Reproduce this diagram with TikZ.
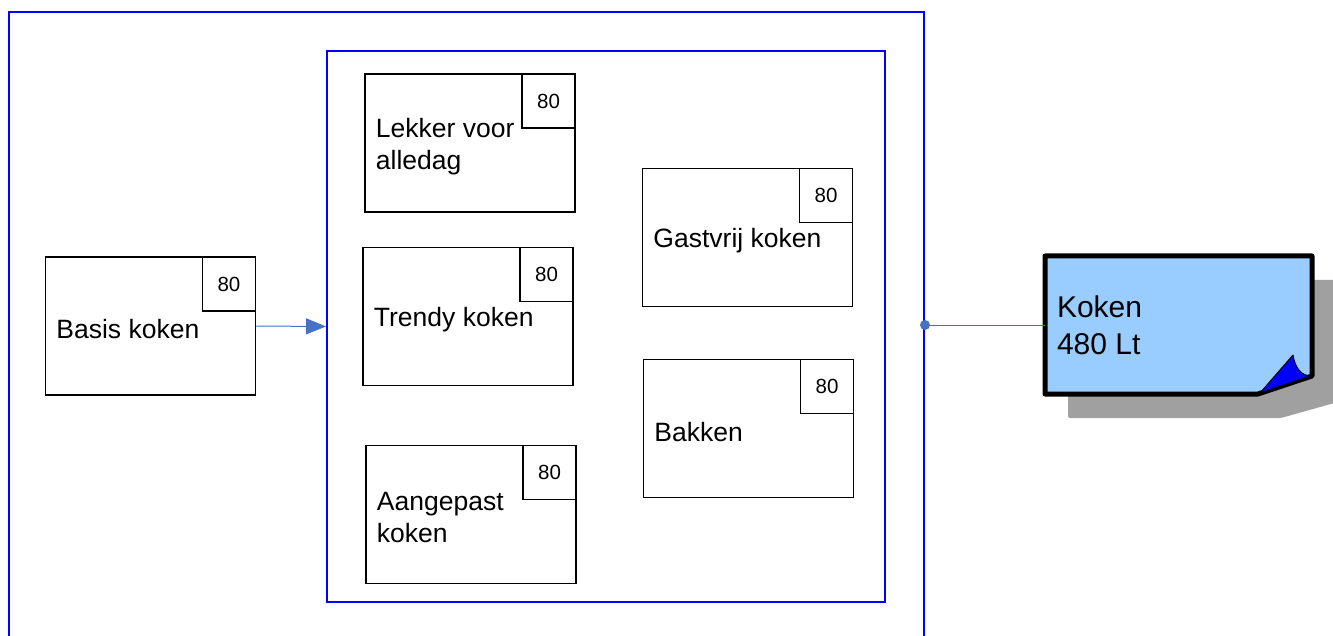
\documentclass[tikz,border=0pt]{standalone}
\usepackage{fontspec}
\setmainfont{Liberation Sans}
\usetikzlibrary{arrows.meta}
\definecolor{frameblue}{HTML}{0000FF}
\definecolor{linkblue}{HTML}{4472C4}
\definecolor{notefill}{HTML}{99CCFF}
\definecolor{shadowgray}{HTML}{A0A0A0}
\begin{document}
\begin{tikzpicture}[x=1pt,y=-1pt,
  frame/.style={draw=frameblue,line width=2pt,inner sep=0pt},
  task/.style={draw=black,line width=1.5pt,minimum width=210pt,minimum height=138pt,inner sep=0pt},
  badge/.style={draw=black,line width=1.5pt,minimum width=53pt,minimum height=54pt,inner sep=0pt,font=\fontsize{20.5}{24}\selectfont},
  tasklabel/.style={anchor=west,xshift=11.5pt,yshift=-3.5pt,align=left,inner sep=0pt,font=\fontsize{26.5}{32}\selectfont},
  link/.style={draw=linkblue,line width=1pt}]
\useasboundingbox (0,0) rectangle (1333,636);
\clip (0,0) rectangle (1333,636);
% frames
\node[frame,minimum width=915pt,minimum height=680pt,anchor=north west] (outer) at (8,11) {};
\node[frame,minimum width=558pt,minimum height=551pt,anchor=north west] (inner) at (326,50) {};
% tasks
\node[task] (lekker) at (470,143) {};
\node[badge,anchor=north east] (lekkerN) at (lekker.north east) {80};
\node[tasklabel] (lekkerT) at (lekker.west) {Lekker voor\\alledag};
\node[task] (trendy) at (468,316.5) {};
\node[badge,anchor=north east] (trendyN) at (trendy.north east) {80};
\node[tasklabel] (trendyT) at (trendy.west) {Trendy koken};
\node[task] (aangepast) at (471,514.5) {};
\node[badge,anchor=north east] (aangepastN) at (aangepast.north east) {80};
\node[tasklabel] (aangepastT) at (aangepast.west) {Aangepast\\koken};
\node[task] (gastvrij) at (747.5,237.5) {};
\node[badge,anchor=north east] (gastvrijN) at (gastvrij.north east) {80};
\node[tasklabel] (gastvrijT) at (gastvrij.west) {Gastvrij koken};
\node[task] (bakken) at (748.5,428.5) {};
\node[badge,anchor=north east] (bakkenN) at (bakken.north east) {80};
\node[tasklabel] (bakkenT) at (bakken.west) {Bakken};
\node[task] (basis) at (150.5,326) {};
\node[badge,anchor=north east] (basisN) at (basis.north east) {80};
\node[tasklabel] (basisT) at (basis.west) {Basis koken};
% arrow
\draw[link,-{Triangle[length=20pt,width=16pt]}] (basis.east) -- (inner.west);
% note
\node[minimum width=267pt,minimum height=138pt,inner sep=0pt] (note) at (1178.5,325) {};
\fill[shadowgray,rounded corners=2pt] (1068,280) -- (1345,280) -- (1345,400) -- (1281,418) -- (1068,418) -- cycle;
\draw[line width=5pt,fill=notefill,line join=round] (1045,256) -- (1312,256) -- (1312,376) -- (1258,394) -- (1045,394) -- cycle;
\draw[fill=frameblue,line width=1pt,line join=round] (1260,393) -- (1293,355) .. controls (1295,368) and (1301,375) .. (1310,376) -- cycle;
\node[anchor=west,xshift=12pt,align=left,inner sep=0pt,font=\fontsize{30}{37}\selectfont] (noteT) at (note.west) {Koken\\480 Lt};
% link from outer frame to note
\coordinate (tap) at (note.west -| outer.east);
\draw[link] (tap) -- (note.west);
\fill[linkblue] (tap) circle (5pt);
\end{tikzpicture}
\end{document}
